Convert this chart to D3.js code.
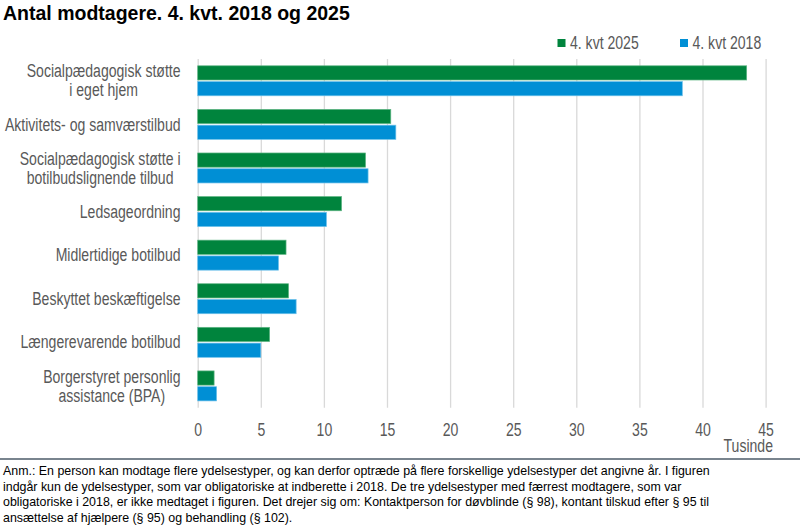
<!DOCTYPE html>
<html>
<head>
<meta charset="utf-8">
<script src="https://cdn.jsdelivr.net/npm/d3@7"></script>
<style>
  body { margin: 0; background: #fff; }
  svg { display: block; }
  .narrow { font-family: "Liberation Sans", Arial, sans-serif; font-size: 18px; fill: #595959; }
</style>
</head>
<body>
<svg id="chart" width="800" height="526"></svg>
<script>
// Antal modtagere, 4. kvt 2018 og 2025 (tusinde)

var categories = [
  ["Socialpædagogisk støtte", "i eget hjem"],
  ["Aktivitets- og samværstilbud"],
  ["Socialpædagogisk støtte i", "botilbudslignende tilbud"],
  ["Ledsageordning"],
  ["Midlertidige botilbud"],
  ["Beskyttet beskæftigelse"],
  ["Længerevarende botilbud"],
  ["Borgerstyret personlig", "assistance (BPA)"]
];

var seriesNames = ["4. kvt 2025", "4. kvt 2018"];
var values2025 = [43.5, 15.3, 13.3, 11.4, 7.0, 7.2, 5.7, 1.3];
var values2018 = [38.4, 15.7, 13.5, 10.2, 6.4, 7.8, 5.0, 1.5];
var xTicks = [0, 5, 10, 15, 20, 25, 30, 35, 40, 45];

var footnote = [
  "Anm.: En person kan modtage flere ydelsestyper, og kan derfor optræde på flere forskellige ydelsestyper det angivne år. I figuren",
  "indgår kun de ydelsestyper, som var obligatoriske at indberette i 2018. De tre ydelsestyper med færrest modtagere, som var",
  "obligatoriske i 2018, er ikke medtaget i figuren. Det drejer sig om: Kontaktperson for døvblinde (§ 98), kontant tilskud efter § 95 til",
  "ansættelse af hjælpere (§ 95) og behandling (§ 102)."
];

var colors = ["#00843d", "#008fd5"];
var strokes = ["#5fb584", "#6cc0ea"];

var svg = d3.select("#chart");

// no Arial Narrow here, so squeeze Arial-metric text instead
function squeeze(sel){
  sel.each(function(){
    var len = this.getComputedTextLength();
    d3.select(this).attr("textLength", len * 0.78).attr("lengthAdjust", "spacingAndGlyphs");
  });
}

// title
svg.append("text")
  .attr("x", 3)
  .attr("y", 19.5)
  .style("font-family", "'Liberation Sans', Arial, sans-serif")
  .style("font-weight", "bold")
  .style("font-size", "19.5px")
  .style("fill", "#000")
  .text("Antal modtagere. 4. kvt. 2018 og 2025");

var margin = {left: 197.7, right: 765.6, top: 59, bottom: 407.7};

var x = d3.scaleLinear()
  .domain([0, 45])
  .range([margin.left, margin.right]);

var y0 = d3.scaleBand()
  .domain(d3.range(categories.length))
  .range([margin.top, margin.bottom])
  .paddingInner(0.312)
  .paddingOuter(0.156);

var y1 = d3.scaleBand()
  .domain([0, 1])
  .range([0, y0.bandwidth()])
  .paddingInner(0.1);

// grid
var x_axis = d3.axisBottom(x)
  .tickValues(xTicks)
  .tickSize(margin.bottom - margin.top)
  .tickSizeOuter(0);

svg.append("g")
  .attr("class", "x axis")
  .attr("transform", "translate(0," + margin.top + ")")
  .call(x_axis)
  .call(function(g){
    g.select(".domain").remove();
    g.selectAll(".tick line").attr("stroke", "#d9d9d9").attr("stroke-width", 1.3);
    g.selectAll(".tick text")
      .attr("class", "narrow")
      .attr("y", margin.bottom - margin.top + 28)
      .attr("dy", 0)
      .attr("fill", "#595959")
      .call(squeeze);
  })
  .attr("font-size", null)
  .attr("font-family", null);

svg.append("text")
  .attr("class", "narrow")
  .attr("x", 773)
  .attr("y", 452)
  .attr("text-anchor", "end")
  .text("Tusinde")
  .call(squeeze);

// bars
var rows = categories.map(function(c, i){ return {i: i, vals: [values2025[i], values2018[i]]}; });

var grp = svg.selectAll(".cat")
  .data(rows)
  .enter().append("g")
  .attr("class", "cat")
  .attr("transform", function(d){ return "translate(0," + y0(d.i) + ")"; });

grp.selectAll("rect")
  .data(function(d){ return d.vals.map(function(v, k){ return {k: k, v: v}; }); })
  .enter().append("rect")
  .attr("x", x(0))
  .attr("y", function(d){ return y1(d.k); })
  .attr("width", function(d){ return x(d.v) - x(0); })
  .attr("height", y1.bandwidth())
  .attr("fill", function(d){ return colors[d.k]; })
  .attr("stroke", function(d){ return strokes[d.k]; })
  .attr("stroke-width", 0.7);

// category labels (lines centred on each other, block right-aligned)
var labelRight = 180.5;
svg.selectAll(".lab")
  .data(rows)
  .enter().append("g")
  .attr("class", "lab")
  .each(function(d){
    var g = d3.select(this);
    var lines = categories[d.i];
    var cy = y0(d.i) + y0.bandwidth() / 2;
    var lh = 19;
    var t = g.selectAll("text")
      .data(lines)
      .enter().append("text")
      .attr("class", "narrow")
      .attr("text-anchor", "middle")
      .attr("y", function(l, j){ return cy + (j - (lines.length - 1) / 2) * lh; })
      .attr("dy", "0.34em")
      .text(function(l){ return l; })
      .call(squeeze);
    var w = 0;
    t.each(function(){ w = Math.max(w, +this.getAttribute("textLength")); });
    t.attr("x", labelRight - w / 2);
  });

// legend
var legX = [557.5, 680];
var leg = svg.selectAll(".leg")
  .data(seriesNames)
  .enter().append("g")
  .attr("class", "leg")
  .attr("transform", function(d, i){ return "translate(" + legX[i] + ",0)"; });

leg.append("rect")
  .attr("y", 39)
  .attr("width", 8)
  .attr("height", 8)
  .attr("fill", function(d, i){ return colors[i]; });

leg.append("text")
  .attr("class", "narrow")
  .attr("x", 12.5)
  .attr("y", 48.5)
  .text(function(d){ return d; })
  .call(squeeze);

// footnote
svg.append("line")
  .attr("x1", 0).attr("x2", 800)
  .attr("y1", 459).attr("y2", 459)
  .attr("stroke", "#4d5b69")
  .attr("stroke-width", 1.4);

svg.append("g")
  .selectAll("text")
  .data(footnote)
  .enter().append("text")
  .attr("x", 3)
  .attr("y", function(d, i){ return 475 + i * 15.5; })
  .style("font-family", "'Liberation Sans', Arial, sans-serif")
  .style("font-size", "12.4px")
  .style("fill", "#000")
  .text(function(d){ return d; });
</script>
</body>
</html>
